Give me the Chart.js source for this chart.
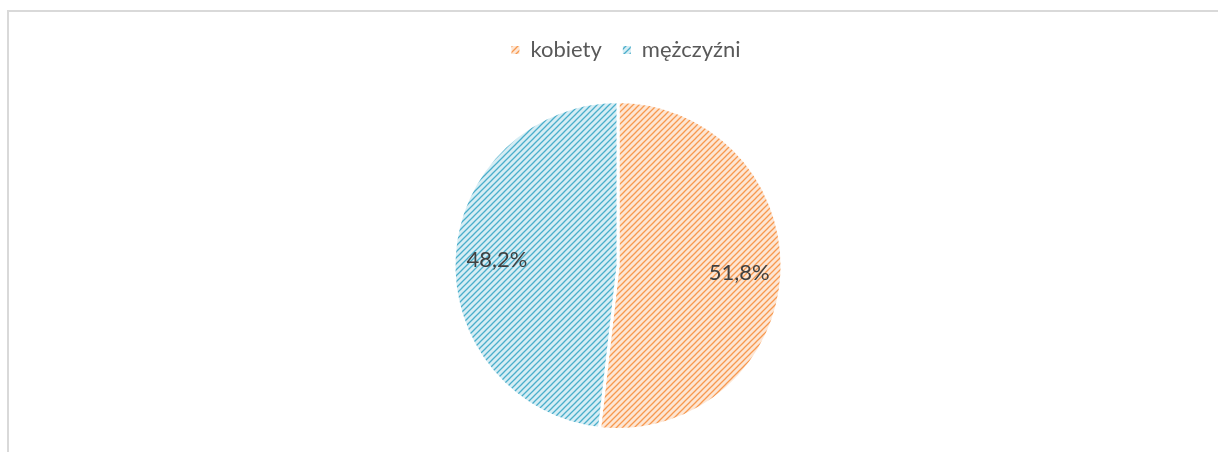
<!DOCTYPE html>
<html>
<head>
  <meta charset="utf-8">
  <title>kobiety / mężczyźni</title>
  <script src="https://cdn.jsdelivr.net/npm/chart.js"></script>
  <style>
    html, body { margin: 0; padding: 0; background: #fff; }
    #frame {
      position: absolute; left: 7px; top: 10px; width: 1211px; height: 442px;
      border-top: 2px solid #d9d9d9; border-left: 2px solid #d9d9d9; box-sizing: border-box;
    }
    #wrap { position: absolute; left: 0; top: 0; width: 1218px; height: 452px; }
  </style>
</head>
<body>
  <div id="frame"></div>
  <div id="wrap"><canvas id="pieChart"></canvas></div>

<script>
  const categories = ['kobiety', 'mężczyźni'];
  const shares = [51.8, 48.2];
  const stripeColors = ['#f7994f', '#4aaecb'];
  const paleColors = ['#fde6d4', '#d6edf4'];

  // upward diagonal hatch, like the Excel fill
  function hatch(fg, bg) {
    let c = document.createElement('canvas');
    c.width = 6; c.height = 6;
    let ctx = c.getContext('2d');
    ctx.fillStyle = bg;
    ctx.fillRect(0, 0, 6, 6);
    ctx.strokeStyle = fg;
    ctx.lineWidth = 1.3;
    ctx.beginPath();
    ctx.moveTo(-1, 7); ctx.lineTo(7, -1);
    ctx.moveTo(-1, 1); ctx.lineTo(1, -1);
    ctx.moveTo(5, 7); ctx.lineTo(7, 5);
    ctx.stroke();
    return ctx.createPattern(c, 'repeat');
  }

  const fills = stripeColors.map((c, i) => hatch(c, paleColors[i]));

  const legendGap = {
    id: 'legendGap',
    beforeInit(chart) {
      const fit = chart.legend.fit;
      chart.legend.fit = function () {
        fit.bind(chart.legend)();
        this.height += 29;
      };
    },
    beforeDraw(chart) {
      // legend in the original sits a bit right of the pie centre
      chart.legend.left += 8;
      chart.legend.right += 8;
    },
    afterDraw(chart) {
      chart.legend.left -= 8;
      chart.legend.right -= 8;
    }
  };

  const pctLabels = {
    id: 'pctLabels',
    afterDatasetsDraw(chart) {
      const ctx = chart.ctx;
      const meta = chart.getDatasetMeta(0);
      ctx.save();
      ctx.font = '22px Lato';
      ctx.fillStyle = '#404040';
      ctx.textAlign = 'center';
      ctx.textBaseline = 'middle';
      meta.data.forEach((arc, i) => {
        const p = arc.getProps(['x', 'y', 'startAngle', 'endAngle', 'outerRadius'], true);
        const mid = (p.startAngle + p.endAngle) / 2;
        const r = p.outerRadius * 0.74;
        const txt = shares[i].toFixed(1).replace('.', ',') + '%';
        ctx.fillText(txt, p.x + Math.cos(mid) * r, p.y + Math.sin(mid) * r + 1);
      });
      ctx.restore();
    }
  };

  new Chart(document.getElementById('pieChart'), {
    type: 'pie',
    data: {
      labels: categories,
      datasets: [{
        data: shares,
        backgroundColor: fills,
        borderColor: '#ffffff',
        borderWidth: 3,
        hoverOffset: 0
      }]
    },
    options: {
      responsive: true,
      maintainAspectRatio: false,
      animation: false,
      layout: { padding: { top: 18, bottom: 21, left: 18 } },
      plugins: {
        legend: {
          position: 'top',
          labels: {
            font: { family: 'Lato', size: 22 },
            color: '#595959',
            boxWidth: 8,
            boxHeight: 8,
            padding: 21,
            generateLabels(chart) {
              const items = Chart.overrides.pie.plugins.legend.labels.generateLabels(chart);
              items.forEach(it => { it.lineWidth = 0; });
              return items;
            }
          }
        },
        tooltip: { enabled: false }
      }
    },
    plugins: [legendGap, pctLabels]
  });
</script>
</body>
</html>
